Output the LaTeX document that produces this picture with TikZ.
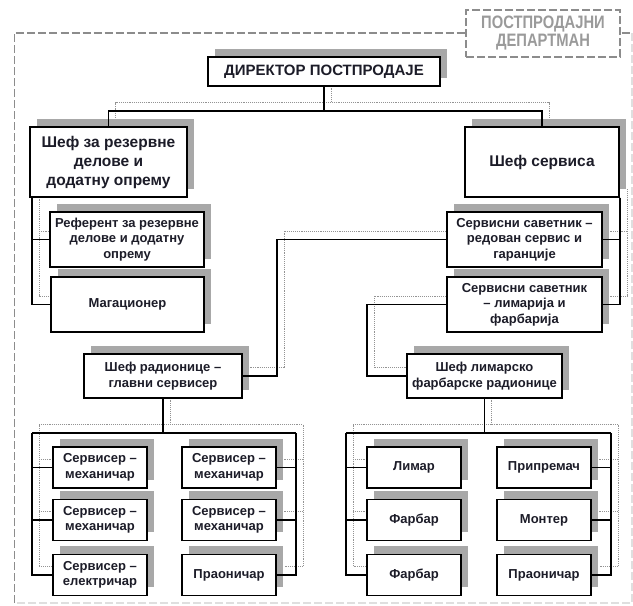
\documentclass[tikz,border=0pt]{standalone}
\usepackage{fontspec}
\setmainfont{Liberation Sans}
\newfontfamily\deptfont[FakeStretch=0.82]{Liberation Sans}
\usetikzlibrary{shadows}
\pgfdeclarelayer{background}
\pgfsetlayers{background,main}
\definecolor{ink}{HTML}{1C1C28}
\definecolor{shade}{HTML}{A8A8A8}
\definecolor{framegray}{HTML}{8C8C8C}
\definecolor{labelgray}{HTML}{9A9A9A}

\tikzset{
  box/.style={draw=black, line width=1.1pt, fill=white, align=center, text=ink, inner sep=1pt,
    drop shadow={shadow xshift=7pt, shadow yshift=8.5pt, fill=shade, opacity=1}},
  big/.style={font=\fontsize{15.5}{19}\selectfont\bfseries},
  mid/.style={font=\fontsize{13}{15.5}\selectfont\bfseries},
  wire/.style={draw=black, line width=1.1pt},
  framedash/.style={line width=1.2pt, dash pattern=on 8pt off 3pt},
}

% all connectors of the chart; drawn once as a dotted shade, once solid
\newcommand{\orgwires}{%
  \draw[wire] (dir.south) -- (dir.south |- topbus);
  \draw[wire] (parts.north) |- (topbus -| service.north) -- (service.north);
  % spare parts chief
  \draw[wire] (pl |- parts.south) |- (ref.west);
  \draw[wire] (pl |- parts.south) |- (mag.west);
  % service chief
  \draw[wire] (pr |- service.south) |- (adv1.east);
  \draw[wire] (pr |- service.south) |- (adv2.east);
  % advisors to workshop heads
  \draw[wire] (adv1.west) -| (wx |- ws.east) -- (ws.east);
  \draw[wire] (adv2.west) -| (bx |- bs.west) -- (bs.west);
  % workshop team
  \draw[wire] (ws.south) -- (ws.south |- wbus);
  \draw[wire] (wl |- wbus) -- (wr |- wbus);
  \draw[wire] (wl |- wbus) |- (el.west);
  \draw[wire] (wl |- m1.west) -- (m1.west);
  \draw[wire] (wl |- m2.west) -- (m2.west);
  \draw[wire] (wr |- wbus) |- (wash1.east);
  \draw[wire] (wr |- m4.east) -- (m4.east);
  \draw[wire] (wr |- m5.east) -- (m5.east);
  % body shop team
  \draw[wire] (bs.south) -- (bs.south |- wbus);
  \draw[wire] (bl |- wbus) -- (br |- wbus);
  \draw[wire] (bl |- wbus) |- (pnt2.west);
  \draw[wire] (bl |- tin.west) -- (tin.west);
  \draw[wire] (bl |- pnt1.west) -- (pnt1.west);
  \draw[wire] (br |- wbus) |- (wash2.east);
  \draw[wire] (br |- prep.east) -- (prep.east);
  \draw[wire] (br |- mont.east) -- (mont.east);
}

\begin{document}
\begin{tikzpicture}[x=1pt,y=-1pt]
\useasboundingbox (0,0) rectangle (633,606);

% department frame
\draw[framegray, framedash] (14.5,603) -- (14.5,33) -- (632,33);
\draw[gray!25, framedash] (632,33) -- (632,603) -- (14.5,603);
\node[draw=framegray, framedash, fill=white, minimum width=154pt, minimum height=47pt,
      inner sep=0pt, text=labelgray, align=center,
      font=\deptfont\fontsize{18}{18}\selectfont\bfseries] (dept) at (543,33.5)
      {ПОСТПРОДАЈНИ\\ДЕПАРТМАН};

% routing coordinates
\coordinate (topbus) at (0,111);
\coordinate (pl) at (32,0);
\coordinate (pr) at (620,0);
\coordinate (wx) at (277,0);
\coordinate (bx) at (367,0);
\coordinate (wbus) at (0,433);
\coordinate (wl) at (32,0);
\coordinate (wr) at (296,0);
\coordinate (bl) at (346,0);
\coordinate (br) at (611,0);

% boxes
\node[box, font=\fontsize{15}{18}\selectfont\bfseries, minimum width=232pt, minimum height=29pt] (dir) at (324,71.5) {ДИРЕКТОР ПОСТПРОДАЈЕ};
\node[box, big, minimum width=157pt, minimum height=70pt] (parts) at (108.5,162) {Шеф за резервне\\делове и\\додатну опрему};
\node[box, big, minimum width=154pt, minimum height=70pt] (service) at (542,162) {Шеф сервиса};
\node[box, mid, minimum width=154pt, minimum height=55pt] (ref) at (127,239.5) {Референт за резервне\\делове и додатну\\опрему};
\node[box, mid, minimum width=153pt, minimum height=55pt] (mag) at (127.5,304.5) {Магационер};
\node[box, mid, minimum width=155pt, minimum height=55pt] (adv1) at (524.5,239.5) {Сервисни саветник –\\редован сервис и\\гаранције};
\node[box, mid, minimum width=155pt, minimum height=55pt] (adv2) at (524.5,304.5) {Сервисни саветник\\– лимарија и\\фарбарија};
\node[box, mid, minimum width=158pt, minimum height=44pt] (ws) at (163,376) {Шеф радионице –\\главни сервисер};
\node[box, mid, minimum width=155pt, minimum height=44pt] (bs) at (484.5,376) {Шеф лимарско\\фарбарске радионице};

\tikzset{worker/.style={box, mid, minimum width=94pt, minimum height=41pt}}
\node[worker] (m1) at (100,467.5) {Сервисер –\\механичар};
\node[worker] (m2) at (100,520) {Сервисер –\\механичар};
\node[worker] (el) at (100,575) {Сервисер –\\електричар};
\node[worker] (m4) at (229,467.5) {Сервисер –\\механичар};
\node[worker] (m5) at (229,520) {Сервисер –\\механичар};
\node[worker] (wash1) at (229,575) {Праоничар};
\node[worker] (tin) at (414,467.5) {Лимар};
\node[worker] (pnt1) at (414,520) {Фарбар};
\node[worker] (pnt2) at (414,575) {Фарбар};
\node[worker] (prep) at (544,467.5) {Припремач};
\node[worker] (mont) at (544,520) {Монтер};
\node[worker] (wash2) at (544,575) {Праоничар};

% dotted connector shade behind everything
\begin{pgfonlayer}{background}
  \begin{scope}[transform canvas={shift={(7pt,8.5pt)}},
                wire/.style={draw=gray!85, line width=0.9pt, densely dotted}]
    \orgwires
  \end{scope}
\end{pgfonlayer}

% solid connectors
\orgwires
\end{tikzpicture}
\end{document}
